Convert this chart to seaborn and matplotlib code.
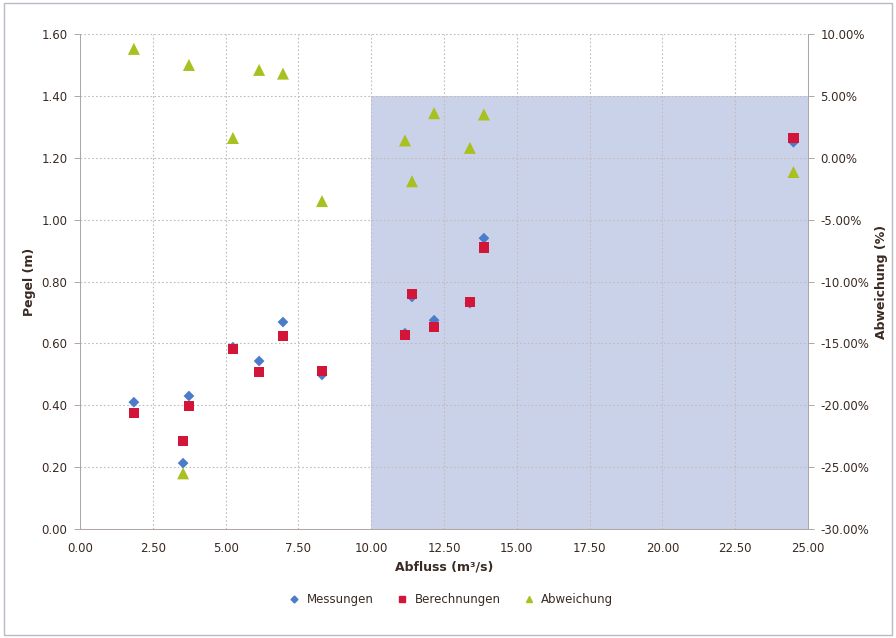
import pandas as pd
import matplotlib.pyplot as plt
import seaborn as sns
from matplotlib.ticker import FuncFormatter
from matplotlib.lines import Line2D

# Values
abfluss = [1.85, 3.54, 3.74, 5.25, 6.15, 6.97, 8.31, 11.16, 11.40, 12.16, 13.39, 13.87, 24.50]
messungen = [0.41, 0.213, 0.43, 0.588, 0.543, 0.669, 0.498, 0.633, 0.75, 0.675, 0.73, 0.94, 1.25]
berechnungen = [0.375, 0.285, 0.398, 0.582, 0.507, 0.624, 0.511, 0.627, 0.76, 0.652, 0.733, 0.91, 1.265]
abweichung = [8.8, -25.5, 7.5, 1.6, 7.1, 6.8, -3.5, 1.4, -1.9, 3.6, 0.8, 3.5, -1.15]

df = pd.DataFrame({"Abfluss": abfluss, "Messungen": messungen,
                   "Berechnungen": berechnungen, "Abweichung": abweichung})

sns.set_style("white")
plt.rcParams["font.family"] = ["DejaVu Sans"]

blue = "#4a7cc9"
red = "#d4153a"
green = "#a8c020"
grid_col = "#c4bab6"
text_col = "#3a2a22"
spine_col = "#b0a6a4"

fig, ax = plt.subplots(figsize=(8.96, 6.38), dpi=100)
fig.subplots_adjust(left=0.0893, right=0.9018, top=0.9467, bottom=0.1708)
ax2 = ax.twinx()

# shaded region
ax.axvspan(10, 25, ymin=0, ymax=1.4 / 1.6, color="#cad2ea", zorder=0, lw=0)

ax.set_xlim(0, 25)
ax.set_ylim(0, 1.6)
ax2.set_ylim(-30, 10)

ax.set_xticks([i * 2.5 for i in range(11)])
ax.set_yticks([i * 0.2 for i in range(9)])
ax2.set_yticks(range(-30, 11, 5))
ax.xaxis.set_major_formatter(FuncFormatter(lambda v, p: f"{v:.2f}"))
ax.yaxis.set_major_formatter(FuncFormatter(lambda v, p: f"{v:.2f}"))
ax2.yaxis.set_major_formatter(FuncFormatter(lambda v, p: f"{v:.2f}%"))

ax.grid(True, color=grid_col, linestyle=(0, (1.5, 2)), linewidth=0.8, zorder=1)
ax.set_axisbelow(True)

sns.scatterplot(data=df, x="Abfluss", y="Messungen", ax=ax, marker="D", s=30,
                color=blue, edgecolor="none", zorder=3, legend=False)
sns.scatterplot(data=df, x="Abfluss", y="Berechnungen", ax=ax, marker="s", s=55,
                color=red, edgecolor="none", zorder=4, legend=False)
sns.scatterplot(data=df, x="Abfluss", y="Abweichung", ax=ax2, marker="^", s=75,
                color=green, edgecolor="none", zorder=3, legend=False)

for a in (ax, ax2):
    for s in a.spines.values():
        s.set_color(spine_col)
        s.set_linewidth(0.7)
    a.tick_params(labelsize=8.5, colors=text_col, length=4, width=0.7,
                  color=spine_col, pad=5)
ax.spines["top"].set_visible(False)
ax2.spines["top"].set_visible(False)

ax.set_xlabel("Abfluss (m³/s)", fontsize=9, fontweight="bold", color=text_col)
ax.set_ylabel("Pegel (m)", fontsize=9, fontweight="bold", color=text_col)
ax2.set_ylabel("Abweichung (%)", fontsize=9, fontweight="bold", color=text_col)

handles = [
    Line2D([], [], marker="D", color=blue, ls="none", markersize=3.5, label="Messungen"),
    Line2D([], [], marker="s", color=red, ls="none", markersize=5, label="Berechnungen"),
    Line2D([], [], marker="^", color=green, ls="none", markersize=4.5, label="Abweichung"),
]
fig.legend(handles=handles, loc="center", bbox_to_anchor=(0.5, 0.06), ncol=3,
           frameon=False, fontsize=8.5, handletextpad=0.05, columnspacing=1.4,
           labelcolor=text_col)

fig.patches.append(plt.Rectangle((0.004, 0.004), 0.992, 0.992, transform=fig.transFigure,
                                 fill=False, edgecolor="#b8b8c8", linewidth=1))

fig.savefig("out.png", dpi=100)
